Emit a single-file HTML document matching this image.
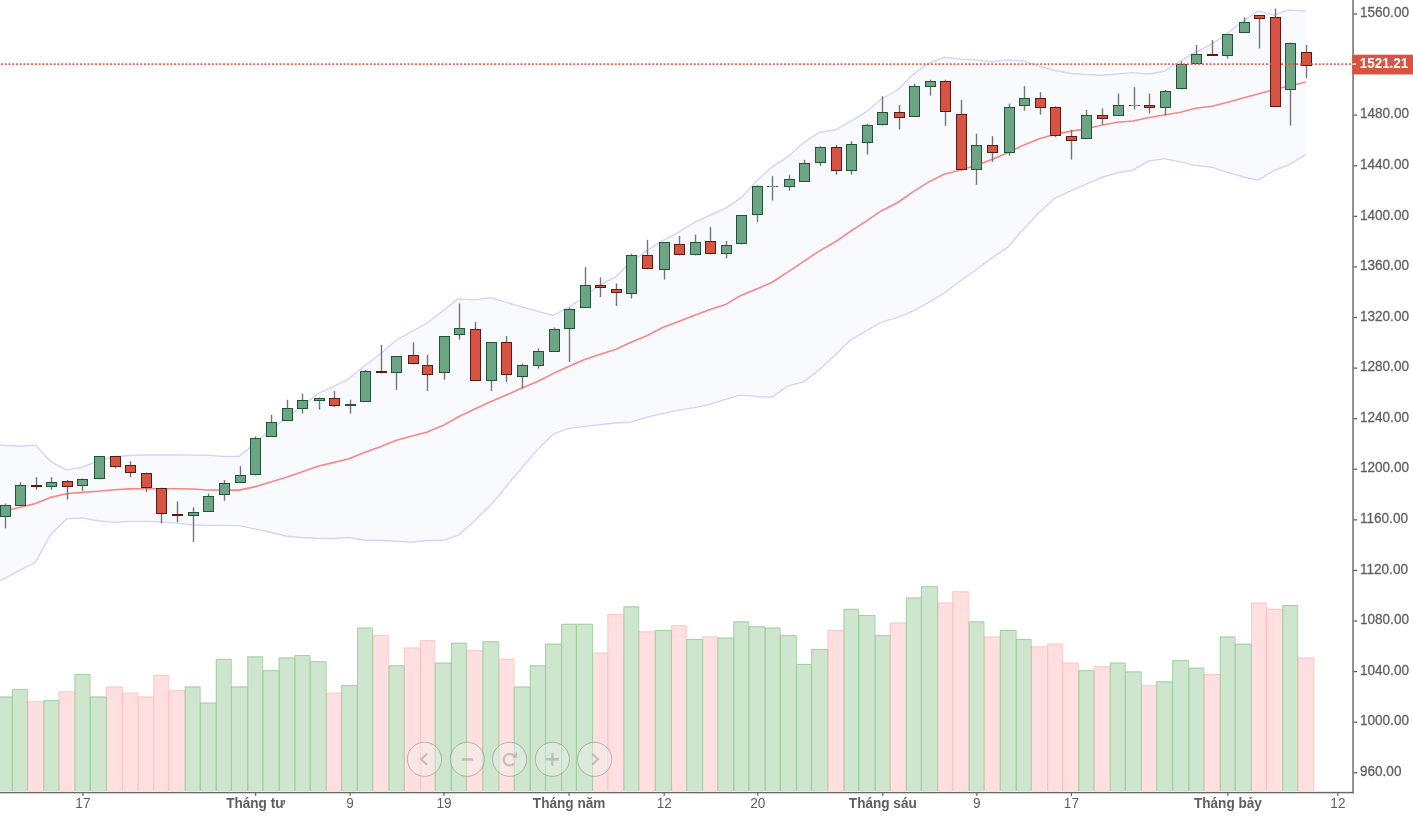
<!DOCTYPE html><html><head><meta charset="utf-8"><title>Chart</title><style>
html,body{margin:0;padding:0;background:#fff;}body{width:1413px;height:818px;overflow:hidden;position:relative;font-family:"Liberation Sans",Arial,sans-serif;}
svg{position:absolute;left:0;top:0;display:block}
.ax{font-size:13.6px;fill:#5e5e5e}.b{font-weight:bold}
</style></head><body>
<svg width="1413" height="818" viewBox="0 0 1413 818">
<g>
<rect x="-3.70" y="696.5" width="15.75" height="94.5" fill="#cde6cd"/>
<rect x="12.00" y="688.9" width="15.25" height="102.1" fill="#cde6cd"/>
<rect x="27.20" y="701.3" width="16.25" height="89.7" fill="#ffdfdf"/>
<rect x="43.40" y="700.2" width="15.25" height="90.8" fill="#cde6cd"/>
<rect x="58.60" y="691.4" width="15.95" height="99.6" fill="#ffdfdf"/>
<rect x="74.50" y="673.9" width="15.35" height="117.1" fill="#cde6cd"/>
<rect x="89.80" y="696.5" width="16.35" height="94.5" fill="#cde6cd"/>
<rect x="106.10" y="686.5" width="16.05" height="104.5" fill="#ffdfdf"/>
<rect x="122.10" y="692.7" width="15.65" height="98.3" fill="#ffdfdf"/>
<rect x="137.70" y="696.5" width="15.65" height="94.5" fill="#ffdfdf"/>
<rect x="153.30" y="674.9" width="15.15" height="116.1" fill="#ffdfdf"/>
<rect x="168.40" y="690.3" width="16.35" height="100.7" fill="#ffdfdf"/>
<rect x="184.70" y="686.5" width="15.25" height="104.5" fill="#cde6cd"/>
<rect x="199.90" y="702.6" width="15.95" height="88.4" fill="#cde6cd"/>
<rect x="215.80" y="658.8" width="15.25" height="132.2" fill="#cde6cd"/>
<rect x="231.00" y="686.5" width="16.35" height="104.5" fill="#cde6cd"/>
<rect x="247.30" y="656.4" width="15.25" height="134.6" fill="#cde6cd"/>
<rect x="262.50" y="670.1" width="16.25" height="120.9" fill="#cde6cd"/>
<rect x="278.70" y="657.5" width="15.85" height="133.5" fill="#cde6cd"/>
<rect x="294.50" y="655.0" width="15.25" height="136.0" fill="#cde6cd"/>
<rect x="309.70" y="661.2" width="16.25" height="129.8" fill="#cde6cd"/>
<rect x="325.90" y="692.7" width="15.25" height="98.3" fill="#ffdfdf"/>
<rect x="341.10" y="685.2" width="15.95" height="105.8" fill="#cde6cd"/>
<rect x="357.00" y="627.6" width="15.35" height="163.4" fill="#cde6cd"/>
<rect x="372.30" y="635.1" width="16.25" height="155.9" fill="#ffdfdf"/>
<rect x="388.50" y="665.3" width="15.35" height="125.7" fill="#cde6cd"/>
<rect x="403.80" y="647.5" width="16.15" height="143.5" fill="#ffdfdf"/>
<rect x="419.90" y="640.2" width="14.85" height="150.8" fill="#ffdfdf"/>
<rect x="434.70" y="662.6" width="16.25" height="128.4" fill="#cde6cd"/>
<rect x="450.90" y="642.7" width="15.25" height="148.3" fill="#cde6cd"/>
<rect x="466.10" y="650.2" width="16.35" height="140.8" fill="#ffdfdf"/>
<rect x="482.40" y="641.3" width="16.15" height="149.7" fill="#cde6cd"/>
<rect x="498.50" y="658.8" width="15.35" height="132.2" fill="#ffdfdf"/>
<rect x="513.80" y="686.5" width="16.05" height="104.5" fill="#cde6cd"/>
<rect x="529.80" y="665.3" width="15.35" height="125.7" fill="#cde6cd"/>
<rect x="545.10" y="643.7" width="16.15" height="147.3" fill="#cde6cd"/>
<rect x="561.20" y="623.8" width="14.85" height="167.2" fill="#cde6cd"/>
<rect x="576.00" y="623.8" width="16.25" height="167.2" fill="#cde6cd"/>
<rect x="592.20" y="652.6" width="15.25" height="138.4" fill="#ffdfdf"/>
<rect x="607.40" y="613.9" width="16.05" height="177.1" fill="#ffdfdf"/>
<rect x="623.40" y="606.4" width="15.15" height="184.6" fill="#cde6cd"/>
<rect x="638.50" y="631.4" width="16.35" height="159.6" fill="#ffdfdf"/>
<rect x="654.80" y="630.0" width="16.35" height="161.0" fill="#cde6cd"/>
<rect x="671.10" y="625.2" width="15.05" height="165.8" fill="#ffdfdf"/>
<rect x="686.10" y="638.9" width="16.15" height="152.1" fill="#cde6cd"/>
<rect x="702.20" y="636.5" width="15.15" height="154.5" fill="#ffdfdf"/>
<rect x="717.30" y="637.6" width="16.15" height="153.4" fill="#cde6cd"/>
<rect x="733.40" y="621.4" width="15.05" height="169.6" fill="#cde6cd"/>
<rect x="748.40" y="626.3" width="16.35" height="164.7" fill="#cde6cd"/>
<rect x="764.70" y="627.6" width="15.15" height="163.4" fill="#cde6cd"/>
<rect x="779.80" y="635.1" width="16.35" height="155.9" fill="#cde6cd"/>
<rect x="796.10" y="663.9" width="15.05" height="127.1" fill="#cde6cd"/>
<rect x="811.10" y="648.9" width="16.45" height="142.1" fill="#cde6cd"/>
<rect x="827.50" y="630.0" width="16.05" height="161.0" fill="#ffdfdf"/>
<rect x="843.50" y="608.8" width="14.85" height="182.2" fill="#cde6cd"/>
<rect x="858.30" y="615.0" width="16.45" height="176.0" fill="#cde6cd"/>
<rect x="874.70" y="635.1" width="15.05" height="155.9" fill="#cde6cd"/>
<rect x="889.70" y="622.5" width="16.25" height="168.5" fill="#ffdfdf"/>
<rect x="905.90" y="597.5" width="15.15" height="193.5" fill="#cde6cd"/>
<rect x="921.00" y="586.2" width="16.35" height="204.8" fill="#cde6cd"/>
<rect x="937.30" y="602.6" width="15.05" height="188.4" fill="#ffdfdf"/>
<rect x="952.30" y="591.3" width="16.35" height="199.7" fill="#ffdfdf"/>
<rect x="968.60" y="621.4" width="15.15" height="169.6" fill="#cde6cd"/>
<rect x="983.70" y="636.5" width="16.15" height="154.5" fill="#ffdfdf"/>
<rect x="999.80" y="630.0" width="16.15" height="161.0" fill="#cde6cd"/>
<rect x="1015.90" y="638.9" width="15.05" height="152.1" fill="#cde6cd"/>
<rect x="1030.90" y="646.4" width="16.35" height="144.6" fill="#ffdfdf"/>
<rect x="1047.20" y="643.7" width="15.15" height="147.3" fill="#ffdfdf"/>
<rect x="1062.30" y="662.6" width="16.05" height="128.4" fill="#ffdfdf"/>
<rect x="1078.30" y="670.1" width="15.35" height="120.9" fill="#cde6cd"/>
<rect x="1093.60" y="666.3" width="16.25" height="124.7" fill="#ffdfdf"/>
<rect x="1109.80" y="662.6" width="15.25" height="128.4" fill="#cde6cd"/>
<rect x="1125.00" y="671.4" width="16.05" height="119.6" fill="#cde6cd"/>
<rect x="1141.00" y="685.2" width="15.25" height="105.8" fill="#ffdfdf"/>
<rect x="1156.20" y="681.4" width="16.05" height="109.6" fill="#cde6cd"/>
<rect x="1172.20" y="660.2" width="16.25" height="130.8" fill="#cde6cd"/>
<rect x="1188.40" y="667.7" width="15.25" height="123.3" fill="#cde6cd"/>
<rect x="1203.60" y="673.9" width="16.25" height="117.1" fill="#ffdfdf"/>
<rect x="1219.80" y="636.5" width="15.05" height="154.5" fill="#cde6cd"/>
<rect x="1234.80" y="643.7" width="16.25" height="147.3" fill="#cde6cd"/>
<rect x="1251.00" y="602.6" width="15.05" height="188.4" fill="#ffdfdf"/>
<rect x="1266.00" y="608.8" width="16.35" height="182.2" fill="#ffdfdf"/>
<rect x="1282.30" y="605.0" width="15.15" height="186.0" fill="#cde6cd"/>
<rect x="1297.40" y="657.5" width="16.05" height="133.5" fill="#ffdfdf"/>
<rect x="1313.40" y="657.5" width="1" height="133.5" fill="#ffdfdf"/>
</g><g fill="none" stroke-width="1">
<path d="M27.70 791.0V701.8H43.70V791.0" stroke="#ffbcbc" stroke-opacity="0.7"/>
<path d="M59.10 791.0V691.9H74.80V791.0" stroke="#ffbcbc" stroke-opacity="0.7"/>
<path d="M106.60 791.0V687.0H122.40V791.0" stroke="#ffbcbc" stroke-opacity="0.7"/>
<path d="M122.60 791.0V693.2H138.00V791.0" stroke="#ffbcbc" stroke-opacity="0.7"/>
<path d="M138.20 791.0V697.0H153.60V791.0" stroke="#ffbcbc" stroke-opacity="0.7"/>
<path d="M153.80 791.0V675.4H168.70V791.0" stroke="#ffbcbc" stroke-opacity="0.7"/>
<path d="M168.90 791.0V690.8H185.00V791.0" stroke="#ffbcbc" stroke-opacity="0.7"/>
<path d="M326.40 791.0V693.2H341.40V791.0" stroke="#ffbcbc" stroke-opacity="0.7"/>
<path d="M372.80 791.0V635.6H388.80V791.0" stroke="#ffbcbc" stroke-opacity="0.7"/>
<path d="M404.30 791.0V648.0H420.20V791.0" stroke="#ffbcbc" stroke-opacity="0.7"/>
<path d="M420.40 791.0V640.7H435.00V791.0" stroke="#ffbcbc" stroke-opacity="0.7"/>
<path d="M466.60 791.0V650.7H482.70V791.0" stroke="#ffbcbc" stroke-opacity="0.7"/>
<path d="M499.00 791.0V659.3H514.10V791.0" stroke="#ffbcbc" stroke-opacity="0.7"/>
<path d="M592.70 791.0V653.1H607.70V791.0" stroke="#ffbcbc" stroke-opacity="0.7"/>
<path d="M607.90 791.0V614.4H623.70V791.0" stroke="#ffbcbc" stroke-opacity="0.7"/>
<path d="M639.00 791.0V631.9H655.10V791.0" stroke="#ffbcbc" stroke-opacity="0.7"/>
<path d="M671.60 791.0V625.7H686.40V791.0" stroke="#ffbcbc" stroke-opacity="0.7"/>
<path d="M702.70 791.0V637.0H717.60V791.0" stroke="#ffbcbc" stroke-opacity="0.7"/>
<path d="M828.00 791.0V630.5H843.80V791.0" stroke="#ffbcbc" stroke-opacity="0.7"/>
<path d="M890.20 791.0V623.0H906.20V791.0" stroke="#ffbcbc" stroke-opacity="0.7"/>
<path d="M937.80 791.0V603.1H952.60V791.0" stroke="#ffbcbc" stroke-opacity="0.7"/>
<path d="M952.80 791.0V591.8H968.90V791.0" stroke="#ffbcbc" stroke-opacity="0.7"/>
<path d="M984.20 791.0V637.0H1000.10V791.0" stroke="#ffbcbc" stroke-opacity="0.7"/>
<path d="M1031.40 791.0V646.9H1047.50V791.0" stroke="#ffbcbc" stroke-opacity="0.7"/>
<path d="M1047.70 791.0V644.2H1062.60V791.0" stroke="#ffbcbc" stroke-opacity="0.7"/>
<path d="M1062.80 791.0V663.1H1078.60V791.0" stroke="#ffbcbc" stroke-opacity="0.7"/>
<path d="M1094.10 791.0V666.8H1110.10V791.0" stroke="#ffbcbc" stroke-opacity="0.7"/>
<path d="M1141.50 791.0V685.7H1156.50V791.0" stroke="#ffbcbc" stroke-opacity="0.7"/>
<path d="M1204.10 791.0V674.4H1220.10V791.0" stroke="#ffbcbc" stroke-opacity="0.7"/>
<path d="M1251.50 791.0V603.1H1266.30V791.0" stroke="#ffbcbc" stroke-opacity="0.7"/>
<path d="M1266.50 791.0V609.3H1282.60V791.0" stroke="#ffbcbc" stroke-opacity="0.7"/>
<path d="M1297.90 791.0V658.0H1313.70V791.0" stroke="#ffbcbc" stroke-opacity="0.7"/>
<path d="M-3.20 791.0V697.0H12.30V791.0" stroke="#9ccc9c" stroke-opacity="0.85"/>
<path d="M12.50 791.0V689.4H27.50V791.0" stroke="#9ccc9c" stroke-opacity="0.85"/>
<path d="M43.90 791.0V700.7H58.90V791.0" stroke="#9ccc9c" stroke-opacity="0.85"/>
<path d="M75.00 791.0V674.4H90.10V791.0" stroke="#9ccc9c" stroke-opacity="0.85"/>
<path d="M90.30 791.0V697.0H106.40V791.0" stroke="#9ccc9c" stroke-opacity="0.85"/>
<path d="M185.20 791.0V687.0H200.20V791.0" stroke="#9ccc9c" stroke-opacity="0.85"/>
<path d="M200.40 791.0V703.1H216.10V791.0" stroke="#9ccc9c" stroke-opacity="0.85"/>
<path d="M216.30 791.0V659.3H231.30V791.0" stroke="#9ccc9c" stroke-opacity="0.85"/>
<path d="M231.50 791.0V687.0H247.60V791.0" stroke="#9ccc9c" stroke-opacity="0.85"/>
<path d="M247.80 791.0V656.9H262.80V791.0" stroke="#9ccc9c" stroke-opacity="0.85"/>
<path d="M263.00 791.0V670.6H279.00V791.0" stroke="#9ccc9c" stroke-opacity="0.85"/>
<path d="M279.20 791.0V658.0H294.80V791.0" stroke="#9ccc9c" stroke-opacity="0.85"/>
<path d="M295.00 791.0V655.5H310.00V791.0" stroke="#9ccc9c" stroke-opacity="0.85"/>
<path d="M310.20 791.0V661.7H326.20V791.0" stroke="#9ccc9c" stroke-opacity="0.85"/>
<path d="M341.60 791.0V685.7H357.30V791.0" stroke="#9ccc9c" stroke-opacity="0.85"/>
<path d="M357.50 791.0V628.1H372.60V791.0" stroke="#9ccc9c" stroke-opacity="0.85"/>
<path d="M389.00 791.0V665.8H404.10V791.0" stroke="#9ccc9c" stroke-opacity="0.85"/>
<path d="M435.20 791.0V663.1H451.20V791.0" stroke="#9ccc9c" stroke-opacity="0.85"/>
<path d="M451.40 791.0V643.2H466.40V791.0" stroke="#9ccc9c" stroke-opacity="0.85"/>
<path d="M482.90 791.0V641.8H498.80V791.0" stroke="#9ccc9c" stroke-opacity="0.85"/>
<path d="M514.30 791.0V687.0H530.10V791.0" stroke="#9ccc9c" stroke-opacity="0.85"/>
<path d="M530.30 791.0V665.8H545.40V791.0" stroke="#9ccc9c" stroke-opacity="0.85"/>
<path d="M545.60 791.0V644.2H561.50V791.0" stroke="#9ccc9c" stroke-opacity="0.85"/>
<path d="M561.70 791.0V624.3H576.30V791.0" stroke="#9ccc9c" stroke-opacity="0.85"/>
<path d="M576.50 791.0V624.3H592.50V791.0" stroke="#9ccc9c" stroke-opacity="0.85"/>
<path d="M623.90 791.0V606.9H638.80V791.0" stroke="#9ccc9c" stroke-opacity="0.85"/>
<path d="M655.30 791.0V630.5H671.40V791.0" stroke="#9ccc9c" stroke-opacity="0.85"/>
<path d="M686.60 791.0V639.4H702.50V791.0" stroke="#9ccc9c" stroke-opacity="0.85"/>
<path d="M717.80 791.0V638.1H733.70V791.0" stroke="#9ccc9c" stroke-opacity="0.85"/>
<path d="M733.90 791.0V621.9H748.70V791.0" stroke="#9ccc9c" stroke-opacity="0.85"/>
<path d="M748.90 791.0V626.8H765.00V791.0" stroke="#9ccc9c" stroke-opacity="0.85"/>
<path d="M765.20 791.0V628.1H780.10V791.0" stroke="#9ccc9c" stroke-opacity="0.85"/>
<path d="M780.30 791.0V635.6H796.40V791.0" stroke="#9ccc9c" stroke-opacity="0.85"/>
<path d="M796.60 791.0V664.4H811.40V791.0" stroke="#9ccc9c" stroke-opacity="0.85"/>
<path d="M811.60 791.0V649.4H827.80V791.0" stroke="#9ccc9c" stroke-opacity="0.85"/>
<path d="M844.00 791.0V609.3H858.60V791.0" stroke="#9ccc9c" stroke-opacity="0.85"/>
<path d="M858.80 791.0V615.5H875.00V791.0" stroke="#9ccc9c" stroke-opacity="0.85"/>
<path d="M875.20 791.0V635.6H890.00V791.0" stroke="#9ccc9c" stroke-opacity="0.85"/>
<path d="M906.40 791.0V598.0H921.30V791.0" stroke="#9ccc9c" stroke-opacity="0.85"/>
<path d="M921.50 791.0V586.7H937.60V791.0" stroke="#9ccc9c" stroke-opacity="0.85"/>
<path d="M969.10 791.0V621.9H984.00V791.0" stroke="#9ccc9c" stroke-opacity="0.85"/>
<path d="M1000.30 791.0V630.5H1016.20V791.0" stroke="#9ccc9c" stroke-opacity="0.85"/>
<path d="M1016.40 791.0V639.4H1031.20V791.0" stroke="#9ccc9c" stroke-opacity="0.85"/>
<path d="M1078.80 791.0V670.6H1093.90V791.0" stroke="#9ccc9c" stroke-opacity="0.85"/>
<path d="M1110.30 791.0V663.1H1125.30V791.0" stroke="#9ccc9c" stroke-opacity="0.85"/>
<path d="M1125.50 791.0V671.9H1141.30V791.0" stroke="#9ccc9c" stroke-opacity="0.85"/>
<path d="M1156.70 791.0V681.9H1172.50V791.0" stroke="#9ccc9c" stroke-opacity="0.85"/>
<path d="M1172.70 791.0V660.7H1188.70V791.0" stroke="#9ccc9c" stroke-opacity="0.85"/>
<path d="M1188.90 791.0V668.2H1203.90V791.0" stroke="#9ccc9c" stroke-opacity="0.85"/>
<path d="M1220.30 791.0V637.0H1235.10V791.0" stroke="#9ccc9c" stroke-opacity="0.85"/>
<path d="M1235.30 791.0V644.2H1251.30V791.0" stroke="#9ccc9c" stroke-opacity="0.85"/>
<path d="M1282.80 791.0V605.5H1297.70V791.0" stroke="#9ccc9c" stroke-opacity="0.85"/>
</g>
<polygon points="-10.5,444.9 3.9,445.2 19.1,446.2 35.3,445.1 50.5,461.4 66.4,469.9 81.7,467.5 98.0,461.0 114.0,456.8 129.6,455.5 145.2,455.0 160.3,455.0 176.6,455.0 191.8,455.1 207.7,455.3 222.9,456.4 239.2,456.4 254.4,444.0 270.6,429.1 286.4,418.1 301.6,406.4 317.8,393.7 333.0,386.6 348.9,378.8 364.2,366.0 380.4,354.0 395.7,340.5 411.8,331.3 426.6,323.5 442.8,311.0 458.0,298.9 474.3,299.9 490.4,297.7 505.7,302.1 521.7,306.8 537.0,311.2 553.1,315.5 567.9,307.7 584.1,297.0 599.3,285.0 615.3,277.2 630.4,262.3 646.7,250.9 663.0,240.3 678.0,232.5 694.1,222.6 709.2,215.5 725.3,208.4 740.3,198.4 756.6,181.1 771.7,167.3 788.0,156.7 803.0,143.2 819.4,132.3 835.4,130.0 850.2,121.7 866.6,111.7 881.6,99.0 897.8,90.0 912.9,74.6 929.2,62.9 944.2,57.3 960.5,59.1 975.6,59.9 991.7,61.7 1007.8,59.9 1022.8,60.9 1039.1,66.2 1054.2,70.3 1070.2,73.2 1085.5,74.5 1101.7,75.2 1116.9,74.0 1132.9,72.6 1148.1,74.0 1164.1,71.3 1180.3,61.1 1195.5,52.2 1211.7,44.1 1226.7,34.0 1242.9,21.3 1257.9,11.1 1274.2,14.9 1289.3,9.9 1305.7,11.3 1305.7,154.6 1289.3,164.6 1274.2,170.5 1257.9,180.2 1242.9,176.7 1226.7,172.1 1211.7,167.2 1195.5,165.4 1180.3,161.9 1164.1,158.6 1148.1,161.2 1132.9,170.2 1116.9,172.8 1101.7,177.5 1085.5,184.3 1070.2,191.2 1054.2,198.4 1039.1,212.8 1022.8,229.8 1007.8,247.2 991.7,258.1 975.6,270.0 960.5,280.7 944.2,293.0 929.2,302.1 912.9,311.0 897.8,317.4 881.6,322.2 866.6,330.6 850.2,340.1 835.4,354.8 819.4,369.6 803.0,382.1 788.0,385.9 771.7,397.4 756.6,396.4 740.3,395.1 725.3,399.4 709.2,404.5 694.1,407.6 678.0,410.4 663.0,413.4 646.7,417.3 630.4,422.2 615.3,423.0 599.3,424.8 584.1,426.4 567.9,428.4 553.1,434.3 537.0,450.1 521.7,467.9 505.7,487.0 490.4,505.6 474.3,520.9 458.0,535.4 442.8,540.3 426.6,540.5 411.8,542.3 395.7,541.3 380.4,540.3 364.2,540.0 348.9,537.5 333.0,538.5 317.8,538.2 301.6,537.5 286.4,536.2 270.6,532.3 254.4,528.9 239.2,525.6 222.9,525.4 207.7,525.4 191.8,524.7 176.6,523.1 160.3,521.7 145.2,521.4 129.6,521.4 114.0,522.4 98.0,520.7 81.7,517.9 66.4,518.9 50.5,534.7 35.3,562.5 19.1,570.7 3.9,578.8 -10.5,584.0" fill="#f9fafe"/>
<polyline points="-10.5,444.9 3.9,445.2 19.1,446.2 35.3,445.1 50.5,461.4 66.4,469.9 81.7,467.5 98.0,461.0 114.0,456.8 129.6,455.5 145.2,455.0 160.3,455.0 176.6,455.0 191.8,455.1 207.7,455.3 222.9,456.4 239.2,456.4 254.4,444.0 270.6,429.1 286.4,418.1 301.6,406.4 317.8,393.7 333.0,386.6 348.9,378.8 364.2,366.0 380.4,354.0 395.7,340.5 411.8,331.3 426.6,323.5 442.8,311.0 458.0,298.9 474.3,299.9 490.4,297.7 505.7,302.1 521.7,306.8 537.0,311.2 553.1,315.5 567.9,307.7 584.1,297.0 599.3,285.0 615.3,277.2 630.4,262.3 646.7,250.9 663.0,240.3 678.0,232.5 694.1,222.6 709.2,215.5 725.3,208.4 740.3,198.4 756.6,181.1 771.7,167.3 788.0,156.7 803.0,143.2 819.4,132.3 835.4,130.0 850.2,121.7 866.6,111.7 881.6,99.0 897.8,90.0 912.9,74.6 929.2,62.9 944.2,57.3 960.5,59.1 975.6,59.9 991.7,61.7 1007.8,59.9 1022.8,60.9 1039.1,66.2 1054.2,70.3 1070.2,73.2 1085.5,74.5 1101.7,75.2 1116.9,74.0 1132.9,72.6 1148.1,74.0 1164.1,71.3 1180.3,61.1 1195.5,52.2 1211.7,44.1 1226.7,34.0 1242.9,21.3 1257.9,11.1 1274.2,14.9 1289.3,9.9 1305.7,11.3" fill="none" stroke="#d3d3fc" stroke-width="1.4" stroke-linejoin="round"/>
<polyline points="-10.5,584.0 3.9,578.8 19.1,570.7 35.3,562.5 50.5,534.7 66.4,518.9 81.7,517.9 98.0,520.7 114.0,522.4 129.6,521.4 145.2,521.4 160.3,521.7 176.6,523.1 191.8,524.7 207.7,525.4 222.9,525.4 239.2,525.6 254.4,528.9 270.6,532.3 286.4,536.2 301.6,537.5 317.8,538.2 333.0,538.5 348.9,537.5 364.2,540.0 380.4,540.3 395.7,541.3 411.8,542.3 426.6,540.5 442.8,540.3 458.0,535.4 474.3,520.9 490.4,505.6 505.7,487.0 521.7,467.9 537.0,450.1 553.1,434.3 567.9,428.4 584.1,426.4 599.3,424.8 615.3,423.0 630.4,422.2 646.7,417.3 663.0,413.4 678.0,410.4 694.1,407.6 709.2,404.5 725.3,399.4 740.3,395.1 756.6,396.4 771.7,397.4 788.0,385.9 803.0,382.1 819.4,369.6 835.4,354.8 850.2,340.1 866.6,330.6 881.6,322.2 897.8,317.4 912.9,311.0 929.2,302.1 944.2,293.0 960.5,280.7 975.6,270.0 991.7,258.1 1007.8,247.2 1022.8,229.8 1039.1,212.8 1054.2,198.4 1070.2,191.2 1085.5,184.3 1101.7,177.5 1116.9,172.8 1132.9,170.2 1148.1,161.2 1164.1,158.6 1180.3,161.9 1195.5,165.4 1211.7,167.2 1226.7,172.1 1242.9,176.7 1257.9,180.2 1274.2,170.5 1289.3,164.6 1305.7,154.6" fill="none" stroke="#d3d3fc" stroke-width="1.4" stroke-linejoin="round"/>
<polyline points="3.9,511.3 19.1,507.4 35.3,503.6 50.5,497.4 66.4,493.8 81.7,492.4 98.0,491.2 114.0,489.8 129.6,488.9 145.2,488.7 160.3,488.7 176.6,488.7 191.8,489.0 207.7,490.0 222.9,490.1 239.2,490.1 254.4,486.9 270.6,481.9 286.4,477.2 301.6,472.0 317.8,466.3 333.0,462.6 348.9,458.7 364.2,452.6 380.4,446.8 395.7,440.6 411.8,436.1 426.6,432.2 442.8,425.6 458.0,417.0 474.3,409.2 490.4,401.7 505.7,395.3 521.7,388.1 537.0,381.7 553.1,373.6 567.9,366.8 584.1,359.7 599.3,354.5 615.3,349.6 630.4,342.6 646.7,335.7 663.0,327.3 678.0,321.7 694.1,315.4 709.2,309.7 725.3,304.6 740.3,295.8 756.6,288.9 771.7,282.5 788.0,271.8 803.0,261.8 819.4,250.9 835.4,241.8 850.2,231.5 866.6,220.9 881.6,210.7 897.8,202.5 912.9,191.9 929.2,181.6 944.2,174.3 960.5,170.1 975.6,165.5 991.7,159.5 1007.8,152.8 1022.8,145.4 1039.1,138.7 1054.2,134.6 1070.2,131.4 1085.5,128.7 1101.7,125.2 1116.9,122.2 1132.9,121.0 1148.1,117.7 1164.1,115.0 1180.3,112.2 1195.5,108.3 1211.7,106.2 1226.7,102.5 1242.9,98.0 1257.9,94.0 1274.2,89.5 1289.3,86.0 1305.7,82.0" fill="none" stroke="#fa8585" stroke-width="1.6" stroke-linejoin="round"/>
<g>
<rect x="4.8" y="503.5" width="1.4" height="24.7" fill="#747476"/>
<rect x="19.8" y="482.3" width="1.4" height="23.4" fill="#747476"/>
<rect x="35.8" y="477.2" width="1.4" height="12.5" fill="#747476"/>
<rect x="50.8" y="477.2" width="1.4" height="12.5" fill="#747476"/>
<rect x="66.8" y="480.0" width="1.4" height="19.6" fill="#747476"/>
<rect x="81.8" y="478.6" width="1.4" height="12.2" fill="#747476"/>
<rect x="98.8" y="456.3" width="1.4" height="23.1" fill="#747476"/>
<rect x="114.8" y="456.3" width="1.4" height="12.1" fill="#747476"/>
<rect x="129.8" y="461.3" width="1.4" height="15.9" fill="#747476"/>
<rect x="145.8" y="472.6" width="1.4" height="19.4" fill="#747476"/>
<rect x="160.8" y="487.7" width="1.4" height="35.7" fill="#747476"/>
<rect x="176.8" y="501.3" width="1.4" height="21.0" fill="#747476"/>
<rect x="192.8" y="507.4" width="1.4" height="34.5" fill="#747476"/>
<rect x="207.8" y="493.6" width="1.4" height="18.2" fill="#747476"/>
<rect x="223.8" y="480.1" width="1.4" height="20.6" fill="#747476"/>
<rect x="239.8" y="466.2" width="1.4" height="16.7" fill="#747476"/>
<rect x="254.8" y="436.3" width="1.4" height="39.1" fill="#747476"/>
<rect x="270.8" y="414.9" width="1.4" height="21.7" fill="#747476"/>
<rect x="286.8" y="399.8" width="1.4" height="20.9" fill="#747476"/>
<rect x="301.8" y="393.7" width="1.4" height="19.9" fill="#747476"/>
<rect x="318.8" y="397.5" width="1.4" height="12.2" fill="#747476"/>
<rect x="333.8" y="391.1" width="1.4" height="16.0" fill="#747476"/>
<rect x="349.8" y="399.8" width="1.4" height="13.8" fill="#747476"/>
<rect x="364.8" y="369.9" width="1.4" height="32.1" fill="#747476"/>
<rect x="380.8" y="344.8" width="1.4" height="28.5" fill="#747476"/>
<rect x="395.8" y="356.4" width="1.4" height="33.5" fill="#747476"/>
<rect x="412.8" y="342.2" width="1.4" height="22.1" fill="#747476"/>
<rect x="426.8" y="355.0" width="1.4" height="35.9" fill="#747476"/>
<rect x="443.8" y="336.3" width="1.4" height="43.4" fill="#747476"/>
<rect x="458.8" y="303.4" width="1.4" height="36.2" fill="#747476"/>
<rect x="474.8" y="322.1" width="1.4" height="58.6" fill="#747476"/>
<rect x="490.8" y="342.4" width="1.4" height="48.5" fill="#747476"/>
<rect x="505.8" y="336.0" width="1.4" height="46.1" fill="#747476"/>
<rect x="521.8" y="363.7" width="1.4" height="24.8" fill="#747476"/>
<rect x="537.8" y="348.5" width="1.4" height="20.1" fill="#747476"/>
<rect x="553.8" y="327.5" width="1.4" height="24.1" fill="#747476"/>
<rect x="568.8" y="307.7" width="1.4" height="54.3" fill="#747476"/>
<rect x="584.8" y="267.2" width="1.4" height="40.7" fill="#747476"/>
<rect x="599.8" y="277.4" width="1.4" height="19.6" fill="#747476"/>
<rect x="615.8" y="283.5" width="1.4" height="22.5" fill="#747476"/>
<rect x="630.8" y="253.8" width="1.4" height="44.6" fill="#747476"/>
<rect x="646.8" y="239.9" width="1.4" height="29.5" fill="#747476"/>
<rect x="663.8" y="242.4" width="1.4" height="37.2" fill="#747476"/>
<rect x="678.8" y="236.0" width="1.4" height="19.4" fill="#747476"/>
<rect x="694.8" y="234.6" width="1.4" height="20.9" fill="#747476"/>
<rect x="709.8" y="227.2" width="1.4" height="27.1" fill="#747476"/>
<rect x="725.8" y="241.0" width="1.4" height="17.4" fill="#747476"/>
<rect x="740.8" y="215.2" width="1.4" height="29.1" fill="#747476"/>
<rect x="756.8" y="185.4" width="1.4" height="36.7" fill="#747476"/>
<rect x="771.8" y="176.1" width="1.4" height="24.5" fill="#747476"/>
<rect x="788.8" y="175.1" width="1.4" height="15.6" fill="#747476"/>
<rect x="803.8" y="159.9" width="1.4" height="21.8" fill="#747476"/>
<rect x="819.8" y="146.3" width="1.4" height="19.6" fill="#747476"/>
<rect x="835.8" y="144.9" width="1.4" height="29.8" fill="#747476"/>
<rect x="850.8" y="141.3" width="1.4" height="33.3" fill="#747476"/>
<rect x="866.8" y="123.8" width="1.4" height="30.8" fill="#747476"/>
<rect x="881.8" y="96.1" width="1.4" height="29.4" fill="#747476"/>
<rect x="898.8" y="104.9" width="1.4" height="24.5" fill="#747476"/>
<rect x="913.8" y="83.6" width="1.4" height="33.0" fill="#747476"/>
<rect x="929.8" y="79.8" width="1.4" height="15.9" fill="#747476"/>
<rect x="944.8" y="79.8" width="1.4" height="46.1" fill="#747476"/>
<rect x="960.8" y="99.9" width="1.4" height="70.6" fill="#747476"/>
<rect x="975.8" y="133.7" width="1.4" height="51.1" fill="#747476"/>
<rect x="991.8" y="136.1" width="1.4" height="25.7" fill="#747476"/>
<rect x="1008.8" y="103.5" width="1.4" height="52.2" fill="#747476"/>
<rect x="1023.8" y="86.2" width="1.4" height="24.5" fill="#747476"/>
<rect x="1039.8" y="92.3" width="1.4" height="22.3" fill="#747476"/>
<rect x="1054.8" y="106.3" width="1.4" height="30.9" fill="#747476"/>
<rect x="1070.8" y="129.7" width="1.4" height="29.9" fill="#747476"/>
<rect x="1085.8" y="109.8" width="1.4" height="29.5" fill="#747476"/>
<rect x="1101.8" y="108.5" width="1.4" height="16.2" fill="#747476"/>
<rect x="1117.8" y="93.5" width="1.4" height="22.1" fill="#747476"/>
<rect x="1133.8" y="87.2" width="1.4" height="22.3" fill="#747476"/>
<rect x="1148.8" y="93.5" width="1.4" height="19.9" fill="#747476"/>
<rect x="1164.8" y="89.9" width="1.4" height="25.5" fill="#747476"/>
<rect x="1180.8" y="61.3" width="1.4" height="28.1" fill="#747476"/>
<rect x="1195.8" y="45.0" width="1.4" height="19.1" fill="#747476"/>
<rect x="1211.8" y="40.0" width="1.4" height="15.6" fill="#747476"/>
<rect x="1226.8" y="33.8" width="1.4" height="24.7" fill="#747476"/>
<rect x="1243.8" y="17.3" width="1.4" height="15.7" fill="#747476"/>
<rect x="1258.8" y="14.9" width="1.4" height="33.6" fill="#747476"/>
<rect x="1274.8" y="8.5" width="1.4" height="98.2" fill="#747476"/>
<rect x="1289.8" y="42.6" width="1.4" height="83.0" fill="#747476"/>
<rect x="1305.8" y="45.0" width="1.4" height="33.3" fill="#747476"/>
</g>
<g shape-rendering="crispEdges">
<rect x="0" y="505" width="11" height="12" fill="#225437"/>
<rect x="1" y="506" width="9" height="10" fill="#6ba583"/>
<rect x="15" y="485" width="11" height="21" fill="#225437"/>
<rect x="16" y="486" width="9" height="19" fill="#6ba583"/>
<rect x="31" y="485" width="11" height="2" fill="#5b1a13"/>
<rect x="46" y="482" width="11" height="5" fill="#225437"/>
<rect x="47" y="483" width="9" height="3" fill="#6ba583"/>
<rect x="62" y="481" width="11" height="6" fill="#5b1a13"/>
<rect x="63" y="482" width="9" height="4" fill="#d75442"/>
<rect x="77" y="479" width="11" height="7" fill="#225437"/>
<rect x="78" y="480" width="9" height="5" fill="#6ba583"/>
<rect x="94" y="456" width="11" height="23" fill="#225437"/>
<rect x="95" y="457" width="9" height="21" fill="#6ba583"/>
<rect x="110" y="456" width="11" height="11" fill="#5b1a13"/>
<rect x="111" y="457" width="9" height="9" fill="#d75442"/>
<rect x="125" y="465" width="11" height="8" fill="#5b1a13"/>
<rect x="126" y="466" width="9" height="6" fill="#d75442"/>
<rect x="141" y="473" width="11" height="15" fill="#5b1a13"/>
<rect x="142" y="474" width="9" height="13" fill="#d75442"/>
<rect x="156" y="488" width="11" height="26" fill="#5b1a13"/>
<rect x="157" y="489" width="9" height="24" fill="#d75442"/>
<rect x="172" y="514" width="11" height="2" fill="#5b1a13"/>
<rect x="188" y="512" width="11" height="4" fill="#225437"/>
<rect x="189" y="513" width="9" height="2" fill="#6ba583"/>
<rect x="203" y="496" width="11" height="16" fill="#225437"/>
<rect x="204" y="497" width="9" height="14" fill="#6ba583"/>
<rect x="219" y="483" width="11" height="12" fill="#225437"/>
<rect x="220" y="484" width="9" height="10" fill="#6ba583"/>
<rect x="235" y="475" width="11" height="8" fill="#225437"/>
<rect x="236" y="476" width="9" height="6" fill="#6ba583"/>
<rect x="250" y="438" width="11" height="37" fill="#225437"/>
<rect x="251" y="439" width="9" height="35" fill="#6ba583"/>
<rect x="266" y="422" width="11" height="15" fill="#225437"/>
<rect x="267" y="423" width="9" height="13" fill="#6ba583"/>
<rect x="282" y="408" width="11" height="13" fill="#225437"/>
<rect x="283" y="409" width="9" height="11" fill="#6ba583"/>
<rect x="297" y="400" width="11" height="9" fill="#225437"/>
<rect x="298" y="401" width="9" height="7" fill="#6ba583"/>
<rect x="314" y="398" width="11" height="3" fill="#225437"/>
<rect x="315" y="399" width="9" height="1" fill="#6ba583"/>
<rect x="329" y="398" width="11" height="8" fill="#5b1a13"/>
<rect x="330" y="399" width="9" height="6" fill="#d75442"/>
<rect x="345" y="404" width="11" height="2" fill="#225437"/>
<rect x="360" y="371" width="11" height="31" fill="#225437"/>
<rect x="361" y="372" width="9" height="29" fill="#6ba583"/>
<rect x="376" y="371" width="11" height="2" fill="#5b1a13"/>
<rect x="391" y="356" width="11" height="17" fill="#225437"/>
<rect x="392" y="357" width="9" height="15" fill="#6ba583"/>
<rect x="408" y="355" width="11" height="9" fill="#5b1a13"/>
<rect x="409" y="356" width="9" height="7" fill="#d75442"/>
<rect x="422" y="365" width="11" height="10" fill="#5b1a13"/>
<rect x="423" y="366" width="9" height="8" fill="#d75442"/>
<rect x="439" y="336" width="11" height="37" fill="#225437"/>
<rect x="440" y="337" width="9" height="35" fill="#6ba583"/>
<rect x="454" y="328" width="11" height="7" fill="#225437"/>
<rect x="455" y="329" width="9" height="5" fill="#6ba583"/>
<rect x="470" y="329" width="11" height="52" fill="#5b1a13"/>
<rect x="471" y="330" width="9" height="50" fill="#d75442"/>
<rect x="486" y="342" width="11" height="39" fill="#225437"/>
<rect x="487" y="343" width="9" height="37" fill="#6ba583"/>
<rect x="501" y="342" width="11" height="33" fill="#5b1a13"/>
<rect x="502" y="343" width="9" height="31" fill="#d75442"/>
<rect x="517" y="365" width="11" height="12" fill="#225437"/>
<rect x="518" y="366" width="9" height="10" fill="#6ba583"/>
<rect x="533" y="351" width="11" height="15" fill="#225437"/>
<rect x="534" y="352" width="9" height="13" fill="#6ba583"/>
<rect x="549" y="329" width="11" height="23" fill="#225437"/>
<rect x="550" y="330" width="9" height="21" fill="#6ba583"/>
<rect x="564" y="309" width="11" height="20" fill="#225437"/>
<rect x="565" y="310" width="9" height="18" fill="#6ba583"/>
<rect x="580" y="285" width="11" height="23" fill="#225437"/>
<rect x="581" y="286" width="9" height="21" fill="#6ba583"/>
<rect x="595" y="285" width="11" height="3" fill="#5b1a13"/>
<rect x="596" y="286" width="9" height="1" fill="#d75442"/>
<rect x="611" y="289" width="11" height="4" fill="#5b1a13"/>
<rect x="612" y="290" width="9" height="2" fill="#d75442"/>
<rect x="626" y="255" width="11" height="39" fill="#225437"/>
<rect x="627" y="256" width="9" height="37" fill="#6ba583"/>
<rect x="642" y="255" width="11" height="14" fill="#5b1a13"/>
<rect x="643" y="256" width="9" height="12" fill="#d75442"/>
<rect x="659" y="242" width="11" height="28" fill="#225437"/>
<rect x="660" y="243" width="9" height="26" fill="#6ba583"/>
<rect x="674" y="244" width="11" height="11" fill="#5b1a13"/>
<rect x="675" y="245" width="9" height="9" fill="#d75442"/>
<rect x="690" y="242" width="11" height="13" fill="#225437"/>
<rect x="691" y="243" width="9" height="11" fill="#6ba583"/>
<rect x="705" y="241" width="11" height="13" fill="#5b1a13"/>
<rect x="706" y="242" width="9" height="11" fill="#d75442"/>
<rect x="721" y="245" width="11" height="9" fill="#225437"/>
<rect x="722" y="246" width="9" height="7" fill="#6ba583"/>
<rect x="736" y="215" width="11" height="29" fill="#225437"/>
<rect x="737" y="216" width="9" height="27" fill="#6ba583"/>
<rect x="752" y="186" width="11" height="29" fill="#225437"/>
<rect x="753" y="187" width="9" height="27" fill="#6ba583"/>
<rect x="767" y="186" width="11" height="1" fill="#225437"/>
<rect x="769" y="186" width="7" height="1" fill="#6ba583"/>
<rect x="784" y="179" width="11" height="8" fill="#225437"/>
<rect x="785" y="180" width="9" height="6" fill="#6ba583"/>
<rect x="799" y="163" width="11" height="19" fill="#225437"/>
<rect x="800" y="164" width="9" height="17" fill="#6ba583"/>
<rect x="815" y="147" width="11" height="16" fill="#225437"/>
<rect x="816" y="148" width="9" height="14" fill="#6ba583"/>
<rect x="831" y="147" width="11" height="24" fill="#5b1a13"/>
<rect x="832" y="148" width="9" height="22" fill="#d75442"/>
<rect x="846" y="144" width="11" height="27" fill="#225437"/>
<rect x="847" y="145" width="9" height="25" fill="#6ba583"/>
<rect x="862" y="125" width="11" height="18" fill="#225437"/>
<rect x="863" y="126" width="9" height="16" fill="#6ba583"/>
<rect x="877" y="112" width="11" height="13" fill="#225437"/>
<rect x="878" y="113" width="9" height="11" fill="#6ba583"/>
<rect x="894" y="112" width="11" height="6" fill="#5b1a13"/>
<rect x="895" y="113" width="9" height="4" fill="#d75442"/>
<rect x="909" y="86" width="11" height="31" fill="#225437"/>
<rect x="910" y="87" width="9" height="29" fill="#6ba583"/>
<rect x="925" y="81" width="11" height="6" fill="#225437"/>
<rect x="926" y="82" width="9" height="4" fill="#6ba583"/>
<rect x="940" y="81" width="11" height="31" fill="#5b1a13"/>
<rect x="941" y="82" width="9" height="29" fill="#d75442"/>
<rect x="956" y="114" width="11" height="56" fill="#5b1a13"/>
<rect x="957" y="115" width="9" height="54" fill="#d75442"/>
<rect x="971" y="145" width="11" height="25" fill="#225437"/>
<rect x="972" y="146" width="9" height="23" fill="#6ba583"/>
<rect x="987" y="145" width="11" height="8" fill="#5b1a13"/>
<rect x="988" y="146" width="9" height="6" fill="#d75442"/>
<rect x="1004" y="107" width="11" height="46" fill="#225437"/>
<rect x="1005" y="108" width="9" height="44" fill="#6ba583"/>
<rect x="1019" y="98" width="11" height="8" fill="#225437"/>
<rect x="1020" y="99" width="9" height="6" fill="#6ba583"/>
<rect x="1035" y="98" width="11" height="10" fill="#5b1a13"/>
<rect x="1036" y="99" width="9" height="8" fill="#d75442"/>
<rect x="1050" y="107" width="11" height="29" fill="#5b1a13"/>
<rect x="1051" y="108" width="9" height="27" fill="#d75442"/>
<rect x="1066" y="136" width="11" height="5" fill="#5b1a13"/>
<rect x="1067" y="137" width="9" height="3" fill="#d75442"/>
<rect x="1081" y="115" width="11" height="24" fill="#225437"/>
<rect x="1082" y="116" width="9" height="22" fill="#6ba583"/>
<rect x="1097" y="115" width="11" height="4" fill="#5b1a13"/>
<rect x="1098" y="116" width="9" height="2" fill="#d75442"/>
<rect x="1113" y="105" width="11" height="11" fill="#225437"/>
<rect x="1114" y="106" width="9" height="9" fill="#6ba583"/>
<rect x="1129" y="105" width="11" height="1" fill="#225437"/>
<rect x="1131" y="105" width="7" height="1" fill="#6ba583"/>
<rect x="1144" y="105" width="11" height="3" fill="#5b1a13"/>
<rect x="1145" y="106" width="9" height="1" fill="#d75442"/>
<rect x="1160" y="91" width="11" height="17" fill="#225437"/>
<rect x="1161" y="92" width="9" height="15" fill="#6ba583"/>
<rect x="1176" y="64" width="11" height="25" fill="#225437"/>
<rect x="1177" y="65" width="9" height="23" fill="#6ba583"/>
<rect x="1191" y="54" width="11" height="10" fill="#225437"/>
<rect x="1192" y="55" width="9" height="8" fill="#6ba583"/>
<rect x="1207" y="54" width="11" height="2" fill="#5b1a13"/>
<rect x="1222" y="34" width="11" height="22" fill="#225437"/>
<rect x="1223" y="35" width="9" height="20" fill="#6ba583"/>
<rect x="1239" y="22" width="11" height="11" fill="#225437"/>
<rect x="1240" y="23" width="9" height="9" fill="#6ba583"/>
<rect x="1254" y="15" width="11" height="4" fill="#5b1a13"/>
<rect x="1255" y="16" width="9" height="2" fill="#d75442"/>
<rect x="1270" y="17" width="11" height="90" fill="#5b1a13"/>
<rect x="1271" y="18" width="9" height="88" fill="#d75442"/>
<rect x="1285" y="43" width="11" height="47" fill="#225437"/>
<rect x="1286" y="44" width="9" height="45" fill="#6ba583"/>
<rect x="1301" y="52" width="11" height="14" fill="#5b1a13"/>
<rect x="1302" y="53" width="9" height="12" fill="#d75442"/>
</g>
<line x1="0.9" y1="64.1" x2="1353" y2="64.1" stroke="#d75442" stroke-opacity="0.88" stroke-width="1.9" stroke-dasharray="2.05 1.715"/>
<g fill="#686868">
<rect x="1352.3" y="0" width="1.45" height="793.3"/>
<rect x="0" y="791.85" width="1353.75" height="1.45"/>
<rect x="1353.6" y="13.40" width="3.6" height="1.2" fill="#5c5c5c"/>
<rect x="1353.6" y="63.99" width="3.6" height="1.2" fill="#5c5c5c"/>
<rect x="1353.6" y="114.57" width="3.6" height="1.2" fill="#5c5c5c"/>
<rect x="1353.6" y="165.16" width="3.6" height="1.2" fill="#5c5c5c"/>
<rect x="1353.6" y="215.74" width="3.6" height="1.2" fill="#5c5c5c"/>
<rect x="1353.6" y="266.32" width="3.6" height="1.2" fill="#5c5c5c"/>
<rect x="1353.6" y="316.91" width="3.6" height="1.2" fill="#5c5c5c"/>
<rect x="1353.6" y="367.50" width="3.6" height="1.2" fill="#5c5c5c"/>
<rect x="1353.6" y="418.08" width="3.6" height="1.2" fill="#5c5c5c"/>
<rect x="1353.6" y="468.66" width="3.6" height="1.2" fill="#5c5c5c"/>
<rect x="1353.6" y="519.25" width="3.6" height="1.2" fill="#5c5c5c"/>
<rect x="1353.6" y="569.84" width="3.6" height="1.2" fill="#5c5c5c"/>
<rect x="1353.6" y="620.42" width="3.6" height="1.2" fill="#5c5c5c"/>
<rect x="1353.6" y="671.00" width="3.6" height="1.2" fill="#5c5c5c"/>
<rect x="1353.6" y="721.59" width="3.6" height="1.2" fill="#5c5c5c"/>
<rect x="1353.6" y="772.17" width="3.6" height="1.2" fill="#5c5c5c"/>
<rect x="82.30" y="793.1" width="1.2" height="2.7" fill="#5c5c5c"/>
<rect x="255.00" y="793.1" width="1.2" height="2.7" fill="#5c5c5c"/>
<rect x="349.50" y="793.1" width="1.2" height="2.7" fill="#5c5c5c"/>
<rect x="443.40" y="793.1" width="1.2" height="2.7" fill="#5c5c5c"/>
<rect x="568.50" y="793.1" width="1.2" height="2.7" fill="#5c5c5c"/>
<rect x="663.60" y="793.1" width="1.2" height="2.7" fill="#5c5c5c"/>
<rect x="757.20" y="793.1" width="1.2" height="2.7" fill="#5c5c5c"/>
<rect x="882.20" y="793.1" width="1.2" height="2.7" fill="#5c5c5c"/>
<rect x="976.20" y="793.1" width="1.2" height="2.7" fill="#5c5c5c"/>
<rect x="1070.80" y="793.1" width="1.2" height="2.7" fill="#5c5c5c"/>
<rect x="1227.30" y="793.1" width="1.2" height="2.7" fill="#5c5c5c"/>
<rect x="1337.27" y="793.1" width="1.2" height="2.7" fill="#5c5c5c"/>
</g>
<text class="ax" transform="translate(1359.9,17.1) scale(1,1.1)" stroke="#5e5e5e" stroke-width="0.25">1560.00</text>
<text class="ax" transform="translate(1359.9,67.7) scale(1,1.1)" stroke="#5e5e5e" stroke-width="0.25">1520.00</text>
<text class="ax" transform="translate(1359.9,118.3) scale(1,1.1)" stroke="#5e5e5e" stroke-width="0.25">1480.00</text>
<text class="ax" transform="translate(1359.9,168.9) scale(1,1.1)" stroke="#5e5e5e" stroke-width="0.25">1440.00</text>
<text class="ax" transform="translate(1359.9,219.5) scale(1,1.1)" stroke="#5e5e5e" stroke-width="0.25">1400.00</text>
<text class="ax" transform="translate(1359.9,270.1) scale(1,1.1)" stroke="#5e5e5e" stroke-width="0.25">1360.00</text>
<text class="ax" transform="translate(1359.9,320.7) scale(1,1.1)" stroke="#5e5e5e" stroke-width="0.25">1320.00</text>
<text class="ax" transform="translate(1359.9,371.2) scale(1,1.1)" stroke="#5e5e5e" stroke-width="0.25">1280.00</text>
<text class="ax" transform="translate(1359.9,421.8) scale(1,1.1)" stroke="#5e5e5e" stroke-width="0.25">1240.00</text>
<text class="ax" transform="translate(1359.9,472.4) scale(1,1.1)" stroke="#5e5e5e" stroke-width="0.25">1200.00</text>
<text class="ax" transform="translate(1359.9,523.0) scale(1,1.1)" stroke="#5e5e5e" stroke-width="0.25">1160.00</text>
<text class="ax" transform="translate(1359.9,573.6) scale(1,1.1)" stroke="#5e5e5e" stroke-width="0.25">1120.00</text>
<text class="ax" transform="translate(1359.9,624.2) scale(1,1.1)" stroke="#5e5e5e" stroke-width="0.25">1080.00</text>
<text class="ax" transform="translate(1359.9,674.8) scale(1,1.1)" stroke="#5e5e5e" stroke-width="0.25">1040.00</text>
<text class="ax" transform="translate(1359.9,725.3) scale(1,1.1)" stroke="#5e5e5e" stroke-width="0.25">1000.00</text>
<text class="ax" transform="translate(1359.9,775.9) scale(1,1.1)" stroke="#5e5e5e" stroke-width="0.25">960.00</text>
<text class="ax" transform="translate(82.9,808.1) scale(1,1.06)" text-anchor="middle">17</text>
<text class="ax b" transform="translate(255.6,808.1) scale(1,1.06)" text-anchor="middle">Tháng tư</text>
<text class="ax" transform="translate(350.1,808.1) scale(1,1.06)" text-anchor="middle">9</text>
<text class="ax" transform="translate(444.0,808.1) scale(1,1.06)" text-anchor="middle">19</text>
<text class="ax b" transform="translate(569.1,808.1) scale(1,1.06)" text-anchor="middle">Tháng năm</text>
<text class="ax" transform="translate(664.2,808.1) scale(1,1.06)" text-anchor="middle">12</text>
<text class="ax" transform="translate(757.8,808.1) scale(1,1.06)" text-anchor="middle">20</text>
<text class="ax b" transform="translate(882.8,808.1) scale(1,1.06)" text-anchor="middle">Tháng sáu</text>
<text class="ax" transform="translate(976.8,808.1) scale(1,1.06)" text-anchor="middle">9</text>
<text class="ax" transform="translate(1071.4,808.1) scale(1,1.06)" text-anchor="middle">17</text>
<text class="ax b" transform="translate(1227.9,808.1) scale(1,1.06)" text-anchor="middle">Tháng bảy</text>
<text class="ax" transform="translate(1337.9,808.1) scale(1,1.06)" text-anchor="middle">12</text>
<rect x="1352.2" y="54.7" width="61" height="19.8" fill="#d75442"/>
<text transform="translate(1359.8,67.9) scale(1,1.08)" font-size="13.4" font-weight="bold" fill="#fff">1521.21</text>
<rect x="1352.3" y="63.5" width="3.8" height="1.3" fill="#fff" fill-opacity="0.9"/>
<g fill="none" stroke="#8c8585" stroke-opacity="0.42" stroke-linecap="butt">
<circle cx="424.5" cy="759.3" r="17.05" fill="#f0f0f0" fill-opacity="0.42" stroke="#808080" stroke-opacity="0.5" stroke-width="1"/>
<path d="M426.9 753.9L421.1 759.3L426.9 764.6999999999999" stroke-width="2.2"/>
<circle cx="467.3" cy="759.3" r="17.05" fill="#f0f0f0" fill-opacity="0.42" stroke="#808080" stroke-opacity="0.5" stroke-width="1"/>
<path d="M461.8 759.4H472.8" stroke-width="2.6"/>
<circle cx="509.6" cy="759.3" r="17.05" fill="#f0f0f0" fill-opacity="0.42" stroke="#808080" stroke-opacity="0.5" stroke-width="1"/>
<path d="M513.91 755.72A5.8 5.8 0 1 0 514.04 763.33" stroke-width="2.3"/>
<path d="M517.0 751.6999999999999V757.6999999999999H512.2Z" fill="#8c8585" fill-opacity="0.42" stroke="none"/>
<circle cx="552.4" cy="759.3" r="17.05" fill="#f0f0f0" fill-opacity="0.42" stroke="#808080" stroke-opacity="0.5" stroke-width="1"/>
<path d="M545.9 759.3H558.9M552.4 752.8V765.8" stroke-width="2.4"/>
<circle cx="594.6" cy="759.3" r="17.05" fill="#f0f0f0" fill-opacity="0.42" stroke="#808080" stroke-opacity="0.5" stroke-width="1"/>
<path d="M592.2 753.9L598.0 759.3L592.2 764.6999999999999" stroke-width="2.2"/>
</g>
</svg></body></html>
